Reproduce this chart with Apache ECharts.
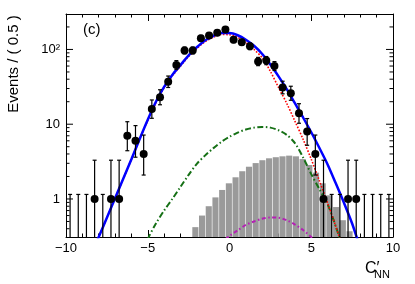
<!DOCTYPE html>
<html><head><meta charset="utf-8">
<script src="https://cdn.jsdelivr.net/npm/echarts@6/dist/echarts.min.js"></script>
<style>html,body{margin:0;padding:0;background:#fff}#c{width:415px;height:284px}</style>
</head><body><div id="c"></div>
<script>
// ---- data ----
const binCenters = [-9.75,-9.25,-8.75,-8.25,-7.75,-7.25,-6.75,-6.25,-5.75,-5.25,-4.75,-4.25,-3.75,-3.25,-2.75,-2.25,-1.75,-1.25,-0.75,-0.25,0.25,0.75,1.25,1.75,2.25,2.75,3.25,3.75,4.25,4.75,5.25,5.75,6.25,6.75,7.25,7.75,8.25,8.75,9.25,9.75];
const counts     = [0,0,0,1,0,1,1,7,6,4,16,23,37,62,97,97,141,154,167,185,135,125,110,69,71,60,31,26,14,8,4,1,0,0,1,1,0,0,0,0];
const errLow     = [0,0,0,0.17,0,0.17,0.17,4.42,3.62,2.09,12.0,18.2,31.0,54.2,87.2,87.2,129.1,141.6,154.1,171.4,123.4,113.8,99.5,60.7,62.6,52.3,25.5,20.9,10.3,5.23,2.09,0.17,0,0,0.17,0.17,0,0,0,0];
const errHigh    = [1.15,1.15,1.15,3.30,1.15,3.30,3.30,10.8,9.58,7.16,21.1,28.9,44.1,70.9,107.9,107.9,153.9,167.4,180.9,199.6,147.6,137.2,121.5,78.3,80.4,68.8,37.6,32.2,18.8,11.9,7.16,3.30,1.15,1.15,3.30,3.30,1.15,1.15,1.15,1.15];

const totalX = [-8.5,-8,-7.5,-7,-6.5,-6,-5.5,-5,-4.5,-4,-3.5,-3,-2.5,-2,-1.5,-1,-0.5,0,0.5,1,1.5,2,2.5,3,3.5,4,4.5,5,5.5,6,6.5,7,7.5,8,8.5];
const totalY = [0.17,0.31,0.56,1.02,1.86,3.39,6.31,11.5,20.0,31.6,45.7,61.7,83.2,107,132,151,166,166,155,135,112,87,63,43.7,29.5,19.1,12.3,7.8,4.8,2.9,1.62,0.89,0.47,0.22,0.11];

const signalX = [-8.5,-8,-7.5,-7,-6.5,-6,-5.5,-5,-4.5,-4,-3.5,-3,-2.5,-2,-1.5,-1,-0.5,0,0.5,1,1.5,2,2.5,3,3.5,4,4.5,5,5.5,6,6.5,7,7.5];
const signalY = [0.17,0.31,0.56,1.02,1.86,3.39,6.3,11.2,19.4,30.7,44.3,59.8,80.5,103,127,145,159,157,145,124,100,77,51,31,19,11,6.3,3.4,1.75,0.88,0.43,0.2,0.09];

const bkgX = [-5.25,-5,-4.5,-4,-3.5,-3,-2.5,-2,-1.5,-1,-0.5,0,0.5,1,1.5,2,2.5,3,3.5,4,4.5,5,5.5,6,6.5,7];
const bkgY = [0.2,0.29,0.47,0.70,1.0,1.45,2.1,2.95,3.8,4.75,5.8,6.8,7.7,8.5,9.0,9.2,9.0,8.3,7.2,5.6,3.6,2.15,1.35,0.85,0.43,0.2];

const peakX = [-0.25,0,0.5,1,1.5,2,2.5,3,3.5,4,4.5,5,5.25];
const peakY = [0.29,0.32,0.38,0.45,0.5,0.545,0.565,0.56,0.52,0.455,0.385,0.31,0.28];

const histX = [-2.07,-1.66,-1.25,-0.84,-0.43,-0.02,0.39,0.80,1.21,1.62,2.03,2.44,2.85,3.26,3.67,4.08,4.49,4.90,5.31,5.72,6.13,6.54,6.95,7.36];
const histY = [0.42,0.60,0.80,1.05,1.32,1.62,1.95,2.35,2.70,3.02,3.30,3.50,3.62,3.72,3.80,3.72,3.42,2.85,2.25,1.62,1.12,0.78,0.52,0.37];

const xTickValues = [-10,-5,0,5,10];
const xTickLabels = ['\u221210','\u22125','0','5','10'];
const yTickValues = [1,10,100];
const yTickLabels = ['1','10','10\u00B2'];

// ---- styles / layout ----
const X_MIN = -10, X_MAX = 10, Y_MIN = 0.31, Y_MAX = 298;
const HIST_W = 0.41;
const FONT = 'Liberation Sans, Arial, Helvetica, sans-serif';

const zip = (a, b) => a.map((v, i) => [v, b[i]]);

const chart = echarts.init(document.getElementById('c'), null, {renderer: 'canvas'});

const yTickData = [];
[0.1, 1, 10, 100].forEach(d => {
  for (let k = 1; k <= 9; k++) {
    const v = k * d;
    if (v >= Y_MIN && v <= Y_MAX) yTickData.push([X_MIN, v, k === 1 ? 1 : 0]);
  }
});

const xLabel = v => {
  const i = xTickValues.findIndex(t => Math.abs(t - v) < 1e-9);
  return i >= 0 ? xTickLabels[i] : '';
};
const yLabel = v => {
  const i = yTickValues.findIndex(t => Math.abs(Math.log10(v) - Math.log10(t)) < 1e-6);
  return i >= 0 ? yTickLabels[i] : '';
};

const option = {
  animation: false,
  backgroundColor: '#fff',
  grid: {left: 66, right: 22, top: 14, bottom: 47, containLabel: false},
  xAxis: [{
    type: 'value', min: X_MIN, max: X_MAX, interval: 5,
    axisLine: {show: true, onZero: false, lineStyle: {color: '#000', width: 1}},
    axisTick: {show: true, inside: true, length: 7, lineStyle: {color: '#000', width: 1}},
    minorTick: {show: true, splitNumber: 5, length: 3.5, lineStyle: {color: '#000', width: 1}},
    splitLine: {show: false},
    axisLabel: {formatter: xLabel, color: '#000', fontSize: 13, fontFamily: FONT, margin: 5}
  }, {
    type: 'value', min: X_MIN, max: X_MAX, interval: 5, position: 'top',
    axisLine: {show: true, onZero: false, lineStyle: {color: '#000', width: 1}},
    axisTick: {show: true, inside: true, length: 7, lineStyle: {color: '#000', width: 1}},
    minorTick: {show: true, splitNumber: 5, length: 3.5, lineStyle: {color: '#000', width: 1}},
    splitLine: {show: false},
    axisLabel: {show: false}
  }],
  yAxis: [{
    type: 'log', logBase: 10, min: Y_MIN, max: Y_MAX, splitNumber: 3, position: 'left',
    axisLine: {show: true, onZero: false, lineStyle: {color: '#000', width: 1}},
    axisTick: {show: false},
    splitLine: {show: false},
    axisLabel: {formatter: yLabel, color: '#000', fontSize: 13, fontFamily: FONT, margin: 6}
  }, {
    type: 'log', logBase: 10, min: Y_MIN, max: Y_MAX, position: 'right',
    axisLine: {show: true, onZero: false, lineStyle: {color: '#000', width: 1}},
    axisTick: {show: false}, splitLine: {show: false}, axisLabel: {show: false}
  }],
  graphic: [
    {type: 'text', x: 14, y: 64, rotation: Math.PI / 2,
     style: {text: 'Events / ( 0.5 )', font: '15px ' + FONT, fill: '#000', align: 'center', verticalAlign: 'middle'}},
    {type: 'text', x: 83, y: 30,
     style: {text: '(c)', font: '15px ' + FONT, fill: '#000', align: 'left', verticalAlign: 'middle'}},
    {type: 'text', x: 365, y: 269,
     style: {text: 'C\u2032', font: '16px ' + FONT, fill: '#000', align: 'left', verticalAlign: 'middle'}},
    {type: 'text', x: 374, y: 275,
     style: {text: 'NN', font: '11px ' + FONT, fill: '#000', align: 'left', verticalAlign: 'middle'}}
  ],
  series: [
    { // grey histogram component
      type: 'custom', z: 1, silent: true,
      data: zip(histX, histY),
      encode: {x: 0, y: 1},
      renderItem: (params, api) => {
        const x = api.value(0), v = api.value(1);
        const p0 = api.coord([x - HIST_W / 2, v]);
        const p1 = api.coord([x + HIST_W / 2, Y_MIN]);
        return {type: 'rect', shape: {x: p0[0], y: p0[1], width: Math.max(0, p1[0] - p0[0] - 0.6), height: p1[1] - p0[1]},
                style: {fill: '#9a9a9a'}};
      }
    },
    { type: 'line', z: 2, data: zip(peakX, peakY), showSymbol: false, smooth: 0.3, clip: true,
      lineStyle: {color: '#b51fb5', width: 2, type: [4, 2.5, 1.5, 2.5]} },
    { type: 'line', z: 3, data: zip(bkgX, bkgY), showSymbol: false, smooth: 0.3, clip: true,
      lineStyle: {color: '#157015', width: 2, type: [6, 2.5, 1.5, 2.5]} },
    { type: 'line', z: 4, data: zip(signalX, signalY), showSymbol: false, smooth: 0.3, clip: true,
      lineStyle: {color: '#ff0000', width: 1.6, type: [1.6, 1.6]} },
    { type: 'line', z: 5, data: zip(totalX, totalY), showSymbol: false, smooth: 0.3, clip: true,
      lineStyle: {color: '#0000ff', width: 2.5} },
    { // error bars
      type: 'custom', z: 6, silent: true,
      data: binCenters.map((x, i) => [x, errLow[i], errHigh[i]]),
      encode: {x: 0, y: [1, 2]},
      renderItem: (params, api) => {
        const cs = params.coordSys;
        const top = cs.y, bottom = cs.y + cs.height;
        const x = api.value(0), lo = api.value(1), hi = api.value(2);
        const pH = api.coord([x, hi]);
        const yLoRaw = lo > 0 ? api.coord([x, lo])[1] : bottom + 10;
        const yH = Math.max(pH[1], top), yL = Math.min(yLoRaw, bottom);
        const px = pH[0];
        const st = {stroke: '#000', lineWidth: 1.2};
        const ch = [{type: 'line', shape: {x1: px, y1: yL, x2: px, y2: yH}, style: st}];
        if (pH[1] >= top) ch.push({type: 'line', shape: {x1: px - 2, y1: yH, x2: px + 2, y2: yH}, style: st});
        if (yLoRaw <= bottom) ch.push({type: 'line', shape: {x1: px - 2, y1: yL, x2: px + 2, y2: yL}, style: st});
        return {type: 'group', children: ch};
      }
    },
    { type: 'scatter', z: 7, symbol: 'circle', symbolSize: 8,
      data: binCenters.map((x, i) => [x, counts[i]]).filter(d => d[1] > 0),
      itemStyle: {color: '#000', opacity: 1} },
    { // log-axis ticks (major + minor) on left and right frame
      type: 'custom', z: 8, silent: true,
      data: yTickData,
      encode: {x: 0, y: 1},
      renderItem: (params, api) => {
        const cs = params.coordSys;
        const y = api.coord([api.value(0), api.value(1)])[1];
        const len = api.value(2) ? 7 : 3.5;
        const st = {stroke: '#000', lineWidth: 1};
        return {type: 'group', children: [
          {type: 'line', shape: {x1: cs.x, y1: y, x2: cs.x + len, y2: y}, style: st},
          {type: 'line', shape: {x1: cs.x + cs.width - len, y1: y, x2: cs.x + cs.width, y2: y}, style: st}
        ]};
      }
    }
  ]
};
chart.setOption(option);
</script>
</body></html>
